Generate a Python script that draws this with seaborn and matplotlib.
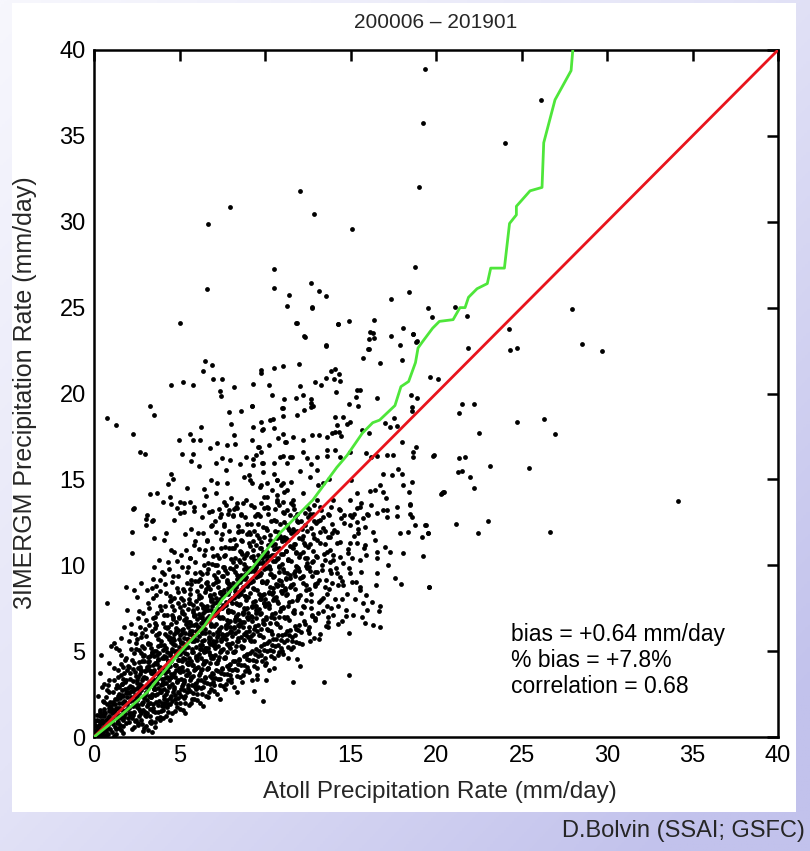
import numpy as np
import pandas as pd
import matplotlib
matplotlib.use("Agg")
import matplotlib.pyplot as plt
import seaborn as sns
from matplotlib.patches import Rectangle
from matplotlib.colors import LinearSegmentedColormap

sns.set_style("white")
plt.rcParams['font.family'] = ['Liberation Sans', 'DejaVu Sans']

# ---------------- text ----------------
title_text = "200006 \u2013 201901"
x_label = "Atoll Precipitation Rate (mm/day)"
y_label = "3IMERGM Precipitation Rate (mm/day)"
stats_lines = ["bias = +0.64 mm/day", "% bias = +7.8%", "correlation = 0.68"]
credit = "D.Bolvin (SSAI; GSFC)"
tick_values = [0, 5, 10, 15, 20, 25, 30, 35, 40]

# ---------------- data (atoll, imerg) in mm/day ----------------
pts_outliers = [
    (19.34, 38.87), (19.26, 35.73), (18.99, 32.04), (12.07, 31.81), (7.97, 30.87),
    (6.69, 29.88), (12.85, 30.45), (15.07, 29.57), (10.53, 27.24), (18.75, 27.34),
    (6.61, 26.06), (10.55, 26.16), (12.71, 26.45), (11.40, 25.73), (13.14, 25.94),
    (13.59, 25.67), (11.27, 25.09), (12.75, 24.99), (17.37, 25.48), (18.44, 25.92),
    (19.55, 24.95), (19.75, 24.47), (21.12, 25.05), (21.82, 24.53), (5.03, 24.12),
    (11.81, 24.12), (14.25, 24.02), (14.89, 24.25), (16.37, 24.27), (12.30, 23.32),
    (16.34, 23.53), (16.08, 23.18), (17.39, 23.34), (18.05, 23.81), (18.64, 23.46),
    (18.89, 23.05), (17.89, 22.83), (13.57, 22.80), (16.08, 22.62), (21.90, 22.66),
    (26.14, 37.11), (24.02, 34.60), (27.95, 24.90), (28.53, 22.86), (29.71, 22.48),
    (24.27, 23.75), (24.34, 22.53), (24.72, 22.63), (21.50, 19.39), (22.21, 19.39),
    (21.36, 18.89), (24.74, 18.33), (26.32, 18.51), (26.97, 17.67), (22.53, 17.70),
    (19.66, 20.98), (20.10, 20.85), (34.13, 13.74), (25.46, 15.64), (26.65, 11.92),
    (23.14, 15.76), (23.02, 12.58), (22.43, 11.90), (21.15, 12.42), (22.22, 14.50),
    (22.01, 15.12), (21.31, 15.43), (21.50, 15.47), (21.36, 16.24), (21.72, 16.32),
    (20.27, 14.15), (20.43, 14.25), (19.84, 16.38), (19.40, 12.34), (19.55, 11.86),
    (19.16, 11.66), (19.22, 10.56), (19.59, 8.73), (0.78, 18.55), (1.31, 18.18),
]

pts_upper = [
    (6.51, 21.87), (6.90, 21.67), (6.35, 21.30), (4.48, 20.51), (5.20, 20.66),
    (5.79, 20.47), (6.96, 20.84), (7.50, 20.84), (7.35, 20.16), (7.43, 19.83),
    (8.17, 20.35), (9.79, 21.36), (9.79, 21.21), (10.53, 21.50), (11.05, 21.58),
    (9.32, 20.53), (10.25, 20.51), (10.43, 19.89), (11.11, 19.69), (3.26, 19.28),
    (3.53, 18.76), (2.28, 17.65), (2.67, 16.60), (2.96, 16.45), (7.91, 18.92),
    (8.58, 19.01), (9.22, 19.28), (8.01, 18.22), (6.28, 18.06), (5.63, 17.67),
    (5.81, 17.27), (6.20, 17.27), (4.99, 17.32), (5.13, 16.45), (5.77, 16.45),
    (5.65, 16.08), (6.12, 15.79), (6.78, 16.80), (7.21, 17.13), (7.80, 16.99),
    (8.27, 17.05), (8.21, 17.58), (9.22, 17.28), (9.59, 16.90), (9.75, 16.60),
    (9.75, 18.35), (9.84, 17.87), (10.45, 18.49), (11.05, 19.13), (11.07, 18.68),
    (10.78, 17.38), (11.03, 17.67), (11.21, 17.19), (7.47, 16.22), (7.97, 16.12),
    (7.12, 15.96), (7.74, 15.54), (8.54, 15.87), (8.87, 16.31), (9.49, 16.41),
    (9.30, 16.16), (9.90, 15.93), (10.53, 15.93), (11.03, 16.35), (11.31, 15.93),
    (11.60, 16.31), (4.50, 15.30), (4.64, 15.05), (4.31, 14.72), (3.27, 14.14),
    (3.70, 14.18), (4.02, 13.69), (2.28, 13.27), (3.02, 12.68), (3.47, 12.62),
    (5.42, 14.47), (5.05, 13.71), (5.59, 13.71), (4.44, 13.95), (4.48, 13.56),
    (4.87, 13.31), (5.26, 13.11), (5.85, 13.17), (6.82, 14.95), (7.21, 14.76),
    (7.76, 14.80), (6.43, 14.43), (6.55, 14.04), (7.12, 14.18), (7.60, 13.69),
    (7.99, 13.89), (8.38, 13.60), (8.87, 13.79), (9.16, 13.50), (8.77, 15.15),
    (9.06, 15.25), (9.26, 14.80), (9.75, 14.66), (10.14, 14.80), (10.43, 14.41),
    (10.68, 14.95), (10.92, 14.66), (11.11, 14.27), (11.50, 14.86), (6.43, 13.50),
    (6.92, 13.15), (7.41, 13.01), (8.19, 13.25), (8.58, 12.92), (9.55, 13.01),
    (9.94, 13.98), (10.14, 13.40), (10.72, 13.69), (11.31, 13.21),
    (12.77, 25.01), (11.85, 24.12), (14.27, 24.02), (12.32, 23.30), (13.56, 22.78),
    (16.14, 23.56), (16.39, 23.21), (16.04, 22.59), (18.65, 23.44), (18.81, 22.99),
    (15.73, 22.04), (16.72, 21.79), (17.99, 21.95), (11.97, 21.73), (13.84, 21.30),
    (14.07, 21.44), (14.32, 21.15), (13.56, 20.93), (12.94, 20.68), (13.27, 20.47),
    (14.01, 20.82), (14.38, 20.70), (12.04, 20.43), (12.22, 19.93), (14.13, 20.06),
    (15.40, 20.18), (15.55, 20.18), (11.79, 19.71), (12.67, 19.67), (15.32, 19.81),
    (14.93, 19.38), (15.46, 19.27), (16.53, 19.71), (18.54, 19.91), (18.87, 19.73),
    (18.61, 19.23), (18.61, 19.00), (9.24, 19.30), (11.01, 19.17), (12.69, 19.46),
    (12.82, 19.27), (12.67, 19.19), (12.30, 19.03), (11.85, 18.74), (10.29, 18.45),
    (10.52, 18.02), (14.09, 18.61), (14.58, 18.61), (14.81, 18.22), (14.23, 18.18),
    (14.97, 18.35), (15.69, 17.89), (16.08, 17.71), (17.01, 18.29), (17.54, 18.55),
    (17.31, 18.06), (17.70, 18.10), (9.31, 18.06), (9.86, 17.92), (11.15, 17.19),
    (11.62, 17.48), (12.73, 17.61), (12.24, 17.28), (13.17, 17.57), (13.60, 17.48),
    (13.90, 17.71), (14.09, 17.77), (14.34, 17.77), (14.44, 17.52), (9.67, 16.90),
    (10.25, 16.99), (10.87, 16.31), (11.46, 16.31), (12.24, 16.60), (12.43, 16.22),
    (12.69, 15.89), (13.02, 16.31), (13.64, 16.70), (14.09, 16.70), (13.64, 16.35),
    (14.38, 16.31), (14.97, 16.60), (15.88, 16.51), (16.20, 16.31), (16.53, 16.35),
    (17.11, 16.41), (17.50, 16.41), (17.99, 17.19), (18.63, 16.60), (18.83, 16.90),
    (18.67, 16.31), (19.88, 16.41), (9.31, 15.83), (9.80, 15.93), (9.90, 15.44),
    (10.52, 15.34), (10.68, 14.95), (11.07, 14.80), (11.26, 14.37), (12.04, 15.50),
    (12.63, 15.15), (13.02, 15.54), (13.12, 14.66), (13.41, 14.80), (13.76, 15.05),
    (15.01, 14.95), (15.36, 14.18), (16.14, 14.33), (16.43, 14.37), (16.92, 14.27),
    (17.07, 13.89), (17.80, 15.63), (17.99, 15.34), (18.09, 14.66), (18.44, 14.27),
    (18.57, 14.86), (20.33, 14.18), (20.48, 14.27), (18.48, 13.54), (18.48, 13.01),
    (16.72, 14.66), (16.92, 15.34), (17.40, 15.24), (9.12, 14.95), (9.70, 14.57),
    (10.09, 13.98), (10.68, 14.08), (11.07, 13.69), (11.65, 13.79), (11.85, 13.01),
    (12.24, 14.18), (13.02, 13.79), (13.21, 13.40), (13.99, 13.79), (14.38, 13.21),
    (14.97, 13.79), (15.55, 13.40), (15.94, 13.01), (16.92, 13.21), (17.70, 13.40),
    (17.11, 12.82), (15.07, 12.82),
]

pts_core_low = [
    (0.10, 0.20), (0.20, 0.50), (0.30, 0.10), (0.40, 0.80), (0.50, 0.30), (0.60, 1.20),
    (0.70, 0.60), (0.80, 0.20), (0.90, 1.50), (0.15, 1.00), (0.35, 1.60), (0.55, 2.10),
    (0.75, 1.90), (0.95, 0.90), (0.25, 2.40), (0.45, 2.90), (0.65, 0.40), (0.85, 2.60),
    (0.05, 0.70), (0.90, 3.30), (0.58, 2.05), (0.35, 3.70), (0.88, 4.29), (0.97, 5.30),
    (0.78, 7.78), (0.40, 4.80), (0.70, 1.00), (0.20, 1.30), (0.60, 3.10), (0.95, 1.80),
    (0.50, 0.05), (0.80, 0.70), (0.30, 0.00), (0.70, 0.10),
    (1.05, 0.30), (1.10, 1.10), (1.20, 2.20), (1.25, 0.60), (1.30, 1.70), (1.35, 3.00),
    (1.40, 0.90), (1.45, 2.50), (1.50, 1.30), (1.55, 3.60), (1.60, 0.40), (1.65, 2.00),
    (1.70, 4.10), (1.75, 1.50), (1.80, 2.80), (1.85, 0.80), (1.90, 3.30), (1.95, 1.90),
    (1.15, 4.00), (1.30, 5.20), (1.46, 5.07), (1.17, 5.45), (1.56, 5.74), (1.75, 6.42),
    (1.95, 7.39), (1.85, 8.75), (1.12, 2.60), (1.38, 1.20), (1.62, 3.10), (1.72, 2.40),
    (1.88, 4.60), (1.98, 1.10), (1.28, 0.20), (1.52, 0.70), (1.68, 1.00), (1.92, 2.30),
    (1.08, 1.60), (1.42, 3.90), (1.78, 3.70), (1.58, 4.80),
    (2.02, 0.90), (2.08, 2.10), (2.12, 3.40), (2.18, 1.40), (2.22, 4.50), (2.28, 2.70),
    (2.32, 0.60), (2.38, 3.80), (2.42, 1.90), (2.48, 5.10), (2.52, 2.40), (2.58, 4.00),
    (2.62, 1.20), (2.68, 3.10), (2.72, 5.80), (2.78, 2.00), (2.82, 4.40), (2.88, 1.60),
    (2.92, 3.50), (2.98, 6.30), (2.05, 5.60), (2.15, 6.60), (2.25, 2.90), (2.35, 4.90),
    (2.45, 1.00), (2.55, 6.90), (2.65, 2.80), (2.75, 3.90), (2.85, 7.20), (2.95, 2.40),
    (2.14, 6.03), (2.53, 8.17), (2.34, 8.56), (2.73, 8.95), (2.20, 10.69), (2.24, 11.92),
    (2.34, 13.31), (2.30, 1.80), (2.60, 0.80), (2.90, 4.80), (2.40, 6.00), (2.70, 1.50),
    (2.10, 1.30), (2.50, 3.30), (2.80, 5.30), (2.95, 0.50),
    (3.02, 1.20), (3.06, 2.60), (3.10, 4.10), (3.14, 1.90), (3.18, 5.40), (3.22, 3.20),
    (3.26, 0.90), (3.30, 4.70), (3.34, 2.30), (3.38, 6.20), (3.42, 3.70), (3.46, 1.50),
    (3.50, 5.00), (3.54, 2.80), (3.58, 7.00), (3.62, 4.30), (3.66, 1.10), (3.70, 3.40),
    (3.74, 6.00), (3.78, 2.10), (3.82, 4.90), (3.86, 7.60), (3.90, 3.00), (3.94, 5.60),
    (3.98, 1.80), (3.04, 6.80), (3.12, 3.00), (3.20, 7.50), (3.28, 2.00), (3.36, 5.20),
    (3.44, 8.10), (3.52, 3.90), (3.60, 6.50), (3.68, 2.50), (3.76, 4.50), (3.84, 8.50),
    (3.92, 2.60), (3.15, 0.40), (3.55, 0.60), (3.85, 1.00), (3.24, 4.40), (3.72, 5.30),
    (3.12, 8.56), (3.51, 9.92), (3.80, 10.31), (3.51, 11.57), (3.02, 12.34), (3.12, 12.93),
    (3.41, 12.60), (3.45, 9.20), (3.95, 9.60), (3.65, 8.80),
    (4.02, 1.60), (4.05, 3.10), (4.08, 4.60), (4.11, 2.20), (4.14, 6.00), (4.17, 3.70),
    (4.20, 1.20), (4.23, 5.20), (4.26, 2.70), (4.29, 7.10), (4.32, 4.10), (4.35, 1.90),
    (4.38, 5.80), (4.41, 3.30), (4.44, 8.20), (4.47, 4.80), (4.50, 2.40), (4.53, 6.60),
    (4.56, 3.60), (4.59, 9.00), (4.62, 5.40), (4.65, 2.90), (4.68, 7.40), (4.71, 4.20),
    (4.74, 1.50), (4.77, 6.20), (4.80, 3.90), (4.83, 8.70), (4.86, 5.00), (4.89, 2.60),
    (4.92, 7.80), (4.95, 4.50), (4.98, 6.90), (4.10, 9.50), (4.30, 10.20), (4.50, 8.00),
    (4.70, 10.80), (4.90, 9.40), (4.15, 2.00), (4.45, 1.00), (4.75, 2.20), (4.25, 3.50),
    (4.55, 5.00), (4.85, 3.20), (4.35, 6.40), (4.65, 6.00), (4.95, 5.70), (4.09, 11.47),
    (4.19, 11.86), (4.48, 10.89), (4.68, 12.64), (4.60, 7.00), (4.20, 8.40),
    (0.18, 0.42), (0.29, 0.94), (0.44, 1.31), (0.56, 0.63), (0.67, 1.38), (0.76, 0.51),
    (0.87, 1.24), (0.99, 1.66), (1.07, 0.94), (1.16, 1.47), (1.23, 1.94), (1.34, 0.81),
    (1.41, 2.36), (1.52, 1.71), (1.63, 2.44), (1.74, 1.19), (1.83, 2.03), (1.94, 2.62),
    (2.06, 1.41), (2.17, 2.68), (2.27, 1.31), (2.37, 2.46), (2.47, 2.21), (0.04, 0.28),
    (0.63, 0.06), (1.18, 0.07), (1.71, 0.22), (2.23, 0.46), (2.81, 0.73), (3.38, 0.31),
]

pts_core_mid = [
    (5.02, 2.00), (5.05, 3.80), (5.08, 5.50), (5.11, 2.80), (5.14, 7.20), (5.17, 4.40),
    (5.20, 1.60), (5.23, 6.30), (5.26, 3.30), (5.29, 8.50), (5.32, 4.90), (5.35, 2.40),
    (5.38, 6.90), (5.41, 3.90), (5.44, 9.60), (5.47, 5.70), (5.50, 3.00), (5.53, 7.80),
    (5.56, 4.60), (5.59, 10.40), (5.62, 6.20), (5.65, 3.50), (5.68, 8.90), (5.71, 5.10),
    (5.74, 2.20), (5.77, 7.40), (5.80, 4.20), (5.83, 11.20), (5.86, 5.90), (5.89, 3.10),
    (5.92, 9.10), (5.95, 6.60), (5.98, 4.00), (5.10, 10.60), (5.30, 11.80), (5.50, 9.90),
    (5.70, 12.10), (5.90, 10.20), (5.15, 5.00), (5.45, 4.30), (5.75, 5.60), (5.25, 7.70),
    (5.55, 6.70), (5.85, 7.10), (5.35, 1.40), (5.65, 2.00), (5.95, 2.80), (5.20, 8.00),
    (5.60, 8.30), (5.05, 13.02), (5.26, 13.61), (5.85, 13.41),
    (6.02, 2.50), (6.05, 4.50), (6.08, 6.40), (6.11, 3.30), (6.14, 8.10), (6.17, 5.10),
    (6.20, 2.00), (6.23, 7.00), (6.26, 3.90), (6.29, 9.50), (6.32, 5.60), (6.35, 2.90),
    (6.38, 7.60), (6.41, 4.40), (6.44, 10.60), (6.47, 6.30), (6.50, 3.50), (6.53, 8.60),
    (6.56, 5.20), (6.59, 11.40), (6.62, 6.90), (6.65, 4.00), (6.68, 9.80), (6.71, 5.80),
    (6.74, 2.60), (6.77, 8.20), (6.80, 4.80), (6.83, 12.30), (6.86, 6.60), (6.89, 3.70),
    (6.92, 10.10), (6.95, 7.30), (6.98, 4.60), (6.10, 11.90), (6.30, 12.80), (6.50, 10.90),
    (6.70, 13.10), (6.90, 11.00), (6.15, 5.90), (6.45, 5.00), (6.75, 6.10), (6.25, 8.80),
    (6.55, 7.40), (6.85, 7.90), (6.35, 1.80), (6.65, 2.30), (6.95, 3.20), (6.20, 9.20),
    (6.60, 9.00), (6.40, 6.80), (6.80, 5.40), (6.00, 7.50),
    (7.02, 3.00), (7.05, 5.20), (7.08, 7.10), (7.11, 3.90), (7.14, 9.00), (7.17, 5.80),
    (7.20, 2.50), (7.23, 7.80), (7.26, 4.50), (7.29, 10.40), (7.32, 6.30), (7.35, 3.40),
    (7.38, 8.40), (7.41, 5.00), (7.44, 11.50), (7.47, 7.00), (7.50, 4.00), (7.53, 9.40),
    (7.56, 5.90), (7.59, 12.30), (7.62, 7.60), (7.65, 4.60), (7.68, 10.60), (7.71, 6.50),
    (7.74, 3.10), (7.77, 9.00), (7.80, 5.40), (7.83, 13.00), (7.86, 7.30), (7.89, 4.20),
    (7.92, 11.00), (7.95, 8.00), (7.98, 5.20), (7.10, 12.60), (7.30, 13.30), (7.50, 11.80),
    (7.70, 13.50), (7.90, 12.00), (7.15, 6.60), (7.45, 5.60), (7.75, 6.80), (7.25, 9.60),
    (7.55, 8.20), (7.85, 8.70), (7.35, 2.20), (7.65, 2.80), (7.95, 3.60), (7.20, 10.00),
    (7.60, 9.90), (7.40, 7.50), (7.80, 6.00), (7.00, 8.30),
    (8.02, 3.40), (8.05, 5.90), (8.08, 7.80), (8.11, 4.40), (8.14, 9.80), (8.17, 6.40),
    (8.20, 2.90), (8.23, 8.50), (8.26, 5.00), (8.29, 11.20), (8.32, 7.00), (8.35, 3.90),
    (8.38, 9.20), (8.41, 5.60), (8.44, 12.30), (8.47, 7.70), (8.50, 4.50), (8.53, 10.20),
    (8.56, 6.60), (8.59, 13.00), (8.62, 8.30), (8.65, 5.20), (8.68, 11.40), (8.71, 7.20),
    (8.74, 3.60), (8.77, 9.80), (8.80, 6.00), (8.83, 12.80), (8.86, 8.00), (8.89, 4.80),
    (8.92, 11.80), (8.95, 8.80), (8.98, 5.80), (8.10, 12.90), (8.30, 13.40), (8.50, 12.00),
    (8.70, 13.60), (8.90, 10.60), (8.15, 7.30), (8.45, 6.20), (8.75, 7.50), (8.25, 10.40),
    (8.55, 9.00), (8.85, 9.50), (8.35, 2.60), (8.65, 3.20), (8.95, 4.10), (8.20, 11.00),
    (8.60, 10.80), (8.40, 8.20), (8.80, 6.70),
]

pts_core_high = [
    (9.02, 3.90), (9.06, 6.40), (9.10, 8.40), (9.14, 4.90), (9.18, 10.50), (9.22, 7.00),
    (9.26, 3.30), (9.30, 9.10), (9.34, 5.60), (9.38, 12.00), (9.42, 7.60), (9.46, 4.40),
    (9.50, 9.90), (9.54, 6.20), (9.58, 13.00), (9.62, 8.30), (9.66, 5.00), (9.70, 11.00),
    (9.74, 7.20), (9.78, 13.60), (9.82, 9.00), (9.86, 5.80), (9.90, 12.20), (9.94, 7.80),
    (9.98, 4.20), (9.12, 11.80), (9.36, 13.40), (9.60, 10.60), (9.84, 10.40), (9.20, 5.90),
    (9.45, 6.90), (9.75, 8.20), (9.28, 11.40), (9.55, 3.60), (9.35, 2.69), (9.55, 3.35),
    (9.90, 2.07), (9.65, 9.60), (9.95, 6.60),
    (10.02, 4.60), (10.06, 7.00), (10.10, 9.10), (10.14, 5.50), (10.18, 11.20), (10.22, 7.70),
    (10.26, 3.90), (10.30, 9.80), (10.34, 6.20), (10.38, 12.60), (10.42, 8.30), (10.46, 5.00),
    (10.50, 10.60), (10.54, 6.90), (10.58, 13.30), (10.62, 8.90), (10.66, 5.70), (10.70, 11.60),
    (10.74, 7.80), (10.78, 4.80), (10.82, 9.60), (10.86, 6.40), (10.90, 12.40), (10.94, 8.50),
    (10.98, 10.10), (10.06, 3.31), (10.52, 4.03), (10.20, 13.00), (10.60, 12.00), (10.40, 6.00),
    (10.80, 13.50), (10.95, 5.20), (10.10, 10.30), (10.45, 9.30),
    (11.02, 5.00), (11.07, 7.50), (11.12, 9.60), (11.17, 6.00), (11.22, 11.60), (11.27, 8.30),
    (11.32, 4.58), (11.37, 10.30), (11.42, 6.80), (11.47, 12.90), (11.52, 8.80), (11.57, 5.60),
    (11.62, 11.00), (11.67, 7.40), (11.72, 13.30), (11.77, 9.40), (11.82, 6.30), (11.87, 12.00),
    (11.92, 8.10), (11.97, 10.50), (11.62, 3.18), (11.89, 4.54), (11.65, 5.22), (11.10, 12.50),
    (11.50, 13.60), (11.30, 7.00), (11.85, 9.90), (11.15, 8.70),
    (12.04, 4.15), (12.00, 5.45), (12.59, 6.07), (12.10, 7.20), (12.20, 9.40), (12.30, 11.30),
    (12.40, 8.00), (12.50, 12.80), (12.60, 9.90), (12.70, 7.50), (12.80, 11.80), (12.90, 8.80),
    (12.15, 12.10), (12.35, 6.60), (12.45, 10.40), (12.55, 13.30), (12.65, 5.60), (12.75, 10.20),
    (12.85, 12.60), (12.95, 9.60), (12.25, 10.80), (12.73, 7.10), (12.92, 6.91),
    (13.02, 8.95), (13.02, 10.50), (13.12, 7.20), (13.21, 11.28), (13.31, 9.72), (13.45, 3.20),
    (13.51, 8.75), (13.60, 10.79), (13.60, 7.63), (13.66, 6.71), (13.66, 6.42), (13.80, 11.66),
    (13.80, 9.72), (13.90, 8.95), (13.10, 12.60), (13.30, 13.20), (13.50, 12.00), (13.70, 13.00),
    (13.90, 12.40), (13.40, 8.10), (13.20, 6.00), (13.95, 10.60),
    (14.09, 8.01), (14.48, 8.01), (14.19, 11.96), (14.19, 11.28), (14.19, 9.53), (14.38, 10.50),
    (14.38, 9.34), (14.29, 8.85), (14.58, 8.85), (14.58, 10.11), (14.48, 6.77), (14.97, 12.34),
    (14.97, 12.93), (14.97, 11.28), (14.87, 10.69), (14.97, 9.53), (14.93, 6.03), (14.93, 3.63),
    (14.00, 10.31), (14.60, 12.90), (14.30, 13.30), (14.75, 7.40),
    (15.07, 9.04), (15.32, 9.04), (15.36, 11.28), (15.36, 12.54), (15.36, 13.31), (15.46, 11.86),
    (15.75, 12.73), (15.84, 12.25), (15.84, 11.18), (15.90, 10.60), (15.55, 10.31), (15.55, 8.75),
    (15.55, 8.56), (15.75, 7.78), (15.94, 7.39), (15.16, 7.10), (15.86, 6.62), (16.26, 7.88),
    (16.30, 6.54), (16.43, 11.47), (16.34, 11.96), (16.53, 10.79), (16.53, 10.40), (16.53, 9.53),
    (16.49, 8.85), (16.72, 7.63), (16.68, 7.33), (16.74, 6.38), (16.57, 13.06), (17.01, 11.08),
    (17.11, 13.22), (17.21, 10.01), (17.31, 10.79), (17.60, 9.24), (17.70, 12.87), (17.89, 11.86),
    (17.93, 8.91), (18.09, 10.69), (18.38, 11.96), (18.48, 13.51), (18.57, 12.79), (18.77, 12.34),
    (19.35, 12.34), (19.55, 11.86), (19.57, 8.71), (15.20, 13.00), (15.60, 13.60), (16.00, 12.90),
    (16.20, 13.50),
]

pts_dense_a = [
    (0.12, 0.35), (0.27, 0.72), (0.41, 0.18), (0.08, 0.95), (0.33, 1.21), (0.46, 0.55),
    (0.19, 0.08), (0.38, 1.44), (0.22, 0.61), (0.47, 0.97),
    (0.53, 0.88), (0.61, 1.63), (0.72, 0.34), (0.84, 1.12), (0.93, 2.05), (0.57, 1.47),
    (0.68, 2.31), (0.79, 0.93), (0.88, 1.71), (0.96, 0.48), (0.64, 0.71), (0.74, 2.72),
    (0.83, 3.05),
    (1.03, 1.38), (1.09, 2.02), (1.14, 0.77), (1.21, 1.55), (1.27, 2.88), (1.33, 1.03),
    (1.36, 2.21), (1.42, 1.66), (1.47, 0.52), (1.19, 3.34), (1.26, 0.45), (1.44, 2.93),
    (1.11, 1.91), (1.38, 3.52), (1.49, 1.97),
    (1.53, 2.26), (1.58, 1.12), (1.61, 2.74), (1.66, 1.58), (1.71, 3.38), (1.77, 2.11),
    (1.82, 1.36), (1.86, 2.57), (1.91, 3.91), (1.97, 2.83), (1.55, 4.25), (1.69, 0.66),
    (1.79, 4.49), (1.93, 1.63), (1.64, 3.06), (1.84, 3.21), (1.99, 4.12),
    (2.03, 2.54), (2.07, 1.67), (2.11, 3.71), (2.16, 2.31), (2.21, 1.09), (2.26, 3.24),
    (2.31, 2.08), (2.36, 4.28), (2.41, 2.77), (2.46, 3.58), (2.04, 4.06), (2.19, 5.12),
    (2.33, 1.45), (2.44, 5.47), (2.13, 2.96), (2.29, 3.97), (2.49, 1.73), (2.39, 0.93),
    (2.51, 3.12), (2.56, 1.86), (2.61, 4.34), (2.66, 2.55), (2.71, 3.67), (2.76, 1.37),
    (2.81, 2.98), (2.86, 4.71), (2.91, 2.26), (2.96, 3.83), (2.54, 5.73), (2.69, 6.41),
    (2.83, 1.94), (2.93, 5.16), (2.58, 2.93), (2.74, 4.87), (2.88, 3.42), (2.99, 1.28),
    (2.63, 7.35), (2.79, 6.05),
    (3.03, 3.46), (3.08, 2.18), (3.13, 4.63), (3.17, 2.87), (3.21, 3.93), (3.27, 1.62),
    (3.32, 3.28), (3.37, 4.96), (3.41, 2.51), (3.46, 4.17), (3.05, 5.88), (3.19, 6.55),
    (3.29, 5.41), (3.44, 6.93), (3.09, 1.37), (3.23, 2.41), (3.35, 3.82), (3.48, 3.04),
    (3.16, 7.82), (3.39, 8.66), (3.31, 0.83), (3.47, 1.91),
    (3.53, 3.71), (3.57, 2.46), (3.61, 5.02), (3.66, 3.13), (3.71, 4.26), (3.76, 1.88),
    (3.81, 3.59), (3.86, 5.37), (3.91, 2.74), (3.96, 4.58), (3.55, 6.35), (3.69, 7.23),
    (3.79, 6.08), (3.94, 7.41), (3.59, 1.46), (3.73, 2.88), (3.84, 4.05), (3.98, 3.37),
    (3.63, 8.27), (3.88, 9.14), (3.51, 4.72), (3.77, 5.69), (3.92, 1.53),
    (4.03, 4.02), (4.07, 2.81), (4.12, 5.33), (4.16, 3.44), (4.21, 4.65), (4.26, 2.13),
    (4.31, 3.86), (4.36, 5.71), (4.41, 2.97), (4.46, 4.89), (4.04, 6.62), (4.18, 7.64),
    (4.28, 6.37), (4.43, 7.91), (4.09, 1.78), (4.23, 3.12), (4.34, 4.44), (4.48, 3.68),
    (4.13, 8.93), (4.38, 9.76), (4.01, 5.06), (4.27, 5.88), (4.42, 1.91), (4.47, 6.14),
    (4.19, 2.49),
    (4.52, 4.41), (4.57, 3.06), (4.61, 5.77), (4.66, 3.71), (4.71, 5.03), (4.76, 2.44),
    (4.81, 4.18), (4.86, 6.12), (4.91, 3.29), (4.96, 5.26), (4.54, 7.09), (4.68, 8.12),
    (4.78, 6.71), (4.93, 8.45), (4.59, 2.07), (4.73, 3.49), (4.84, 4.77), (4.98, 4.01),
    (4.63, 9.38), (4.88, 10.27), (4.51, 5.51), (4.77, 6.34), (4.92, 2.29), (4.97, 6.96),
    (4.69, 2.78),
    (5.03, 4.83), (5.07, 3.39), (5.12, 6.24), (5.16, 4.07), (5.21, 5.46), (5.26, 2.71),
    (5.31, 4.52), (5.36, 6.58), (5.41, 3.62), (5.46, 5.71), (5.04, 7.56), (5.18, 8.63),
    (5.28, 7.19), (5.43, 8.98), (5.09, 2.38), (5.23, 3.83), (5.34, 5.16), (5.48, 4.37),
    (5.13, 9.87), (5.38, 10.91), (5.01, 5.93), (5.27, 6.81), (5.42, 2.61), (5.47, 7.43),
    (5.19, 3.08), (5.33, 6.03),
    (5.52, 5.24), (5.57, 3.72), (5.61, 6.69), (5.66, 4.43), (5.71, 5.92), (5.76, 3.01),
    (5.81, 4.94), (5.86, 7.04), (5.91, 3.97), (5.96, 6.18), (5.54, 8.02), (5.68, 9.12),
    (5.78, 7.66), (5.93, 9.53), (5.59, 2.67), (5.73, 4.21), (5.84, 5.61), (5.98, 4.74),
    (5.63, 10.41), (5.88, 11.39), (5.51, 6.41), (5.77, 7.28), (5.92, 2.91), (5.97, 7.91),
    (5.69, 3.43), (5.83, 6.52),
]

pts_dense_b = [
    (6.03, 5.67), (6.07, 4.07), (6.12, 7.18), (6.16, 4.81), (6.21, 6.36), (6.26, 3.29),
    (6.31, 5.37), (6.36, 7.52), (6.41, 4.33), (6.46, 6.64), (6.04, 8.51), (6.18, 9.63),
    (6.28, 8.14), (6.43, 10.02), (6.09, 2.93), (6.23, 4.58), (6.34, 6.03), (6.48, 5.16),
    (6.13, 10.93), (6.38, 11.88), (6.01, 6.87), (6.27, 7.77), (6.42, 3.18), (6.47, 8.43),
    (6.19, 3.71), (6.33, 6.97), (6.24, 5.12), (6.45, 4.92),
    (6.52, 6.08), (6.57, 4.41), (6.61, 7.63), (6.66, 5.19), (6.71, 6.79), (6.76, 3.58),
    (6.81, 5.78), (6.86, 8.01), (6.91, 4.69), (6.96, 7.08), (6.54, 8.97), (6.68, 10.11),
    (6.78, 8.61), (6.93, 10.53), (6.59, 3.17), (6.73, 4.94), (6.84, 6.47), (6.98, 5.57),
    (6.63, 11.46), (6.88, 12.37), (6.51, 7.33), (6.77, 8.24), (6.92, 3.44), (6.97, 8.92),
    (6.69, 4.02), (6.83, 7.42), (6.74, 5.53), (6.95, 5.33),
    (7.03, 6.49), (7.07, 4.76), (7.12, 8.08), (7.16, 5.57), (7.21, 7.22), (7.26, 3.87),
    (7.31, 6.19), (7.36, 8.47), (7.41, 5.04), (7.46, 7.53), (7.04, 9.44), (7.18, 10.61),
    (7.28, 9.07), (7.43, 11.01), (7.09, 3.42), (7.23, 5.31), (7.34, 6.91), (7.48, 5.98),
    (7.13, 11.96), (7.38, 12.81), (7.01, 7.79), (7.27, 8.71), (7.42, 3.71), (7.47, 9.38),
    (7.19, 4.33), (7.33, 7.86), (7.24, 5.94), (7.45, 5.72),
    (7.52, 6.91), (7.57, 5.11), (7.61, 8.53), (7.66, 5.94), (7.71, 7.66), (7.76, 4.16),
    (7.81, 6.61), (7.86, 8.94), (7.91, 5.39), (7.96, 7.97), (7.54, 9.91), (7.68, 11.08),
    (7.78, 9.52), (7.93, 11.47), (7.59, 3.67), (7.73, 5.68), (7.84, 7.33), (7.98, 6.39),
    (7.63, 12.43), (7.88, 13.21), (7.51, 8.26), (7.77, 9.17), (7.92, 3.98), (7.97, 9.84),
    (7.69, 4.63), (7.83, 8.31), (7.74, 6.36), (7.95, 6.13),
    (8.03, 7.31), (8.07, 5.46), (8.12, 8.97), (8.16, 6.32), (8.21, 8.11), (8.26, 4.45),
    (8.31, 7.02), (8.36, 9.41), (8.41, 5.74), (8.46, 8.42), (8.04, 10.37), (8.18, 11.52),
    (8.28, 9.98), (8.43, 11.93), (8.09, 3.93), (8.23, 6.04), (8.34, 7.76), (8.48, 6.81),
    (8.13, 12.88), (8.38, 13.31), (8.01, 8.71), (8.27, 9.63), (8.42, 4.26), (8.47, 10.29),
    (8.19, 4.94), (8.33, 8.76), (8.24, 6.77), (8.45, 6.55),
    (8.52, 7.73), (8.57, 5.81), (8.61, 9.41), (8.66, 6.69), (8.71, 8.56), (8.76, 4.74),
    (8.81, 7.44), (8.86, 9.87), (8.91, 6.09), (8.96, 8.87), (8.54, 10.83), (8.68, 11.97),
    (8.78, 10.43), (8.93, 12.39), (8.59, 4.19), (8.73, 6.41), (8.84, 8.19), (8.98, 7.22),
    (8.51, 9.16), (8.77, 10.09), (8.92, 4.53), (8.97, 10.74), (8.69, 5.26), (8.83, 9.21),
    (8.74, 7.18), (8.95, 6.97),
    (9.03, 8.14), (9.07, 6.16), (9.12, 9.86), (9.16, 7.06), (9.21, 9.01), (9.26, 5.03),
    (9.31, 7.86), (9.36, 10.33), (9.41, 6.44), (9.46, 9.32), (9.04, 11.29), (9.18, 12.43),
    (9.28, 10.88), (9.43, 12.85), (9.09, 4.46), (9.23, 6.78), (9.34, 8.62), (9.48, 7.63),
    (9.01, 9.61), (9.27, 10.55), (9.42, 4.81), (9.47, 11.19), (9.19, 5.58), (9.33, 9.66),
    (9.24, 7.59), (9.45, 7.39),
    (9.52, 8.56), (9.57, 6.51), (9.61, 10.31), (9.66, 7.43), (9.71, 9.46), (9.76, 5.32),
    (9.81, 8.28), (9.86, 10.79), (9.91, 6.79), (9.96, 9.77), (9.54, 11.74), (9.68, 12.89),
    (9.78, 11.33), (9.93, 13.31), (9.59, 4.73), (9.73, 7.15), (9.84, 9.04), (9.98, 8.04),
    (9.51, 10.06), (9.77, 11.01), (9.92, 5.08), (9.97, 11.64), (9.69, 5.91), (9.83, 10.11),
    (9.74, 8.01), (9.95, 7.81),
    (10.03, 8.97), (10.07, 6.86), (10.12, 10.76), (10.16, 7.81), (10.21, 9.91), (10.26, 5.61),
    (10.31, 8.71), (10.36, 11.24), (10.41, 7.14), (10.46, 10.22), (10.04, 12.19), (10.18, 13.34),
    (10.28, 11.78), (10.09, 5.01), (10.23, 7.52), (10.34, 9.47), (10.48, 8.46), (10.01, 10.51),
    (10.27, 11.46), (10.42, 5.36), (10.19, 6.24), (10.33, 10.56), (10.24, 8.43),
    (10.52, 9.39), (10.57, 7.21), (10.61, 11.21), (10.66, 8.18), (10.71, 10.36), (10.76, 5.91),
    (10.81, 9.13), (10.86, 11.69), (10.91, 7.49), (10.96, 10.67), (10.54, 12.64), (10.68, 13.79),
    (10.59, 5.29), (10.73, 7.89), (10.84, 9.89), (10.98, 8.87), (10.51, 10.96), (10.77, 11.91),
    (10.92, 5.64), (10.69, 6.57), (10.83, 11.01), (10.74, 8.84),
    (11.03, 9.81), (11.07, 7.56), (11.12, 11.66), (11.16, 8.56), (11.21, 10.81), (11.26, 6.19),
    (11.31, 9.56), (11.36, 12.14), (11.41, 7.84), (11.46, 11.12), (11.04, 13.09), (11.09, 5.56),
    (11.23, 8.26), (11.34, 10.32), (11.48, 9.28), (11.01, 11.41), (11.27, 12.36), (11.42, 5.92),
    (11.19, 6.91), (11.33, 11.46), (11.24, 9.26),
    (11.52, 10.23), (11.57, 7.91), (11.61, 12.11), (11.66, 8.93), (11.71, 11.26), (11.76, 6.48),
    (11.81, 9.98), (11.86, 12.59), (11.91, 8.19), (11.96, 11.57), (11.59, 5.83), (11.73, 8.63),
    (11.84, 10.74), (11.98, 9.69), (11.51, 11.86), (11.77, 12.81), (11.92, 6.21), (11.69, 7.24),
    (11.83, 11.91), (11.74, 9.68),
    (12.03, 10.64), (12.07, 8.26), (12.12, 12.56), (12.16, 9.31), (12.21, 11.71), (12.26, 6.77),
    (12.31, 10.41), (12.36, 13.04), (12.41, 8.54), (12.46, 12.02), (12.09, 6.11), (12.23, 8.99),
    (12.34, 11.16), (12.48, 10.11), (12.27, 7.58), (12.44, 9.83),
    (12.52, 11.06), (12.57, 8.61), (12.61, 13.01), (12.66, 9.68), (12.71, 12.16), (12.76, 7.06),
    (12.81, 10.83), (12.86, 13.49), (12.91, 8.89), (12.96, 12.47), (12.59, 6.39), (12.73, 9.36),
    (12.84, 11.59), (12.98, 10.52), (12.69, 7.91),
    (13.04, 11.48), (13.13, 9.12), (13.22, 12.61), (13.31, 10.04), (13.41, 7.35), (13.52, 11.25),
    (13.61, 8.31), (13.73, 12.91), (13.84, 9.57), (13.93, 11.86), (13.17, 7.86), (13.46, 10.67),
    (13.68, 6.97), (13.88, 7.54), (13.37, 12.19), (13.79, 10.21),
    (14.06, 12.07), (14.17, 9.83), (14.28, 7.61), (14.41, 11.36), (14.53, 9.07), (14.64, 12.46),
    (14.77, 8.32), (14.88, 10.95), (14.24, 6.58), (14.71, 7.03), (14.46, 12.78), (14.92, 9.82),
    (15.11, 10.43), (15.27, 8.02), (15.44, 12.12), (15.62, 9.61), (15.78, 10.98), (15.93, 8.24),
    (15.23, 11.73), (15.69, 6.96),
]

pts_dense_c = [
    (2.52, 2.15), (2.57, 3.48), (2.62, 1.63), (2.67, 4.05), (2.72, 2.71), (2.77, 0.98),
    (2.82, 3.29), (2.87, 2.04), (2.92, 4.42), (2.97, 1.47), (2.55, 0.71), (2.65, 5.08),
    (2.75, 3.86), (2.85, 0.36), (2.95, 2.89),
    (3.01, 2.47), (3.06, 3.92), (3.11, 1.79), (3.16, 4.38), (3.21, 3.06), (3.26, 1.21),
    (3.31, 3.71), (3.36, 2.33), (3.41, 4.91), (3.46, 1.68), (3.04, 0.62), (3.14, 5.47),
    (3.24, 4.13), (3.34, 0.95), (3.44, 3.37), (3.49, 2.78),
    (3.52, 2.81), (3.57, 4.29), (3.62, 2.03), (3.67, 4.76), (3.72, 3.44), (3.77, 1.44),
    (3.82, 4.01), (3.87, 2.62), (3.92, 5.33), (3.97, 1.96), (3.54, 0.88), (3.64, 5.94),
    (3.74, 4.57), (3.84, 1.17), (3.94, 3.73), (3.99, 3.11), (3.59, 6.62),
    (4.02, 3.18), (4.07, 4.71), (4.12, 2.36), (4.17, 5.19), (4.22, 3.82), (4.27, 1.72),
    (4.32, 4.44), (4.37, 2.94), (4.42, 5.79), (4.47, 2.27), (4.04, 1.12), (4.14, 6.41),
    (4.24, 4.97), (4.34, 1.46), (4.44, 4.11), (4.49, 3.49), (4.09, 7.12),
    (4.52, 3.52), (4.57, 5.13), (4.62, 2.64), (4.67, 5.63), (4.72, 4.19), (4.77, 1.98),
    (4.82, 4.86), (4.87, 3.26), (4.92, 6.22), (4.97, 2.54), (4.54, 1.37), (4.64, 6.88),
    (4.74, 5.36), (4.84, 1.72), (4.94, 4.48), (4.99, 3.87), (4.59, 7.61),
    (5.02, 3.91), (5.07, 5.56), (5.12, 2.98), (5.17, 6.07), (5.22, 4.58), (5.27, 2.26),
    (5.32, 5.29), (5.37, 3.59), (5.42, 6.67), (5.47, 2.83), (5.04, 1.63), (5.14, 7.34),
    (5.24, 5.77), (5.34, 1.97), (5.44, 4.86), (5.49, 4.24), (5.09, 8.11), (5.29, 3.21),
    (5.52, 4.27), (5.57, 5.98), (5.62, 3.29), (5.67, 6.52), (5.72, 4.96), (5.77, 2.54),
    (5.82, 5.71), (5.87, 3.93), (5.92, 7.11), (5.97, 3.12), (5.54, 1.89), (5.64, 7.83),
    (5.74, 6.19), (5.84, 2.24), (5.94, 5.24), (5.99, 4.61), (5.59, 8.61), (5.79, 3.58),
    (6.02, 4.66), (6.07, 6.41), (6.12, 3.63), (6.17, 6.96), (6.22, 5.34), (6.27, 2.83),
    (6.32, 6.13), (6.37, 4.27), (6.42, 7.56), (6.47, 3.41), (6.04, 2.14), (6.14, 8.29),
    (6.24, 6.61), (6.34, 2.51), (6.44, 5.63), (6.49, 4.98), (6.09, 9.08), (6.29, 3.94),
    (6.39, 7.21),
    (6.52, 5.03), (6.57, 6.84), (6.62, 3.96), (6.67, 7.41), (6.72, 5.72), (6.77, 3.11),
    (6.82, 6.55), (6.87, 4.61), (6.92, 8.01), (6.97, 3.69), (6.54, 2.41), (6.64, 8.77),
    (6.74, 7.03), (6.84, 2.78), (6.94, 6.01), (6.99, 5.36), (6.59, 9.56), (6.79, 4.28),
    (6.89, 7.62),
    (7.02, 5.42), (7.07, 7.27), (7.12, 4.29), (7.17, 7.86), (7.22, 6.11), (7.27, 3.39),
    (7.32, 6.97), (7.37, 4.94), (7.42, 8.46), (7.47, 3.98), (7.04, 2.68), (7.14, 9.24),
    (7.24, 7.44), (7.34, 3.04), (7.44, 6.39), (7.49, 5.73), (7.09, 10.03), (7.29, 4.63),
    (7.39, 8.06),
    (7.52, 5.79), (7.57, 7.69), (7.62, 4.62), (7.67, 8.31), (7.72, 6.49), (7.77, 3.67),
    (7.82, 7.39), (7.87, 5.28), (7.92, 8.91), (7.97, 4.26), (7.54, 2.96), (7.64, 9.71),
    (7.74, 7.86), (7.84, 3.31), (7.94, 6.77), (7.99, 6.11), (7.59, 10.51), (7.79, 4.97),
    (7.89, 8.49),
    (8.02, 6.17), (8.07, 8.12), (8.12, 4.96), (8.17, 8.76), (8.22, 6.88), (8.27, 3.94),
    (8.32, 7.81), (8.37, 5.61), (8.42, 9.36), (8.47, 4.54), (8.04, 3.22), (8.14, 10.18),
    (8.24, 8.28), (8.34, 3.58), (8.44, 7.16), (8.49, 6.48), (8.09, 10.98), (8.29, 5.31),
    (8.39, 8.92),
    (8.52, 6.56), (8.57, 8.54), (8.62, 5.29), (8.67, 9.21), (8.72, 7.26), (8.77, 4.22),
    (8.82, 8.23), (8.87, 5.96), (8.92, 9.81), (8.97, 4.83), (8.54, 3.49), (8.64, 10.66),
    (8.74, 8.71), (8.84, 3.86), (8.94, 7.54), (8.99, 6.86), (8.59, 11.46), (8.79, 5.64),
    (8.89, 9.34),
    (9.02, 6.94), (9.07, 8.97), (9.12, 5.62), (9.17, 9.66), (9.22, 7.64), (9.27, 4.51),
    (9.32, 8.66), (9.37, 6.29), (9.42, 10.26), (9.47, 5.11), (9.04, 3.77), (9.14, 11.13),
    (9.24, 9.13), (9.34, 4.13), (9.44, 7.92), (9.49, 7.23), (9.09, 11.93), (9.29, 5.98),
    (9.39, 9.77),
    (9.52, 7.33), (9.57, 9.39), (9.62, 5.96), (9.67, 10.11), (9.72, 8.03), (9.77, 4.79),
    (9.82, 9.08), (9.87, 6.63), (9.92, 10.71), (9.97, 5.39), (9.54, 4.03), (9.64, 11.61),
    (9.74, 9.56), (9.84, 4.41), (9.94, 8.31), (9.99, 7.61), (9.59, 12.41), (9.79, 6.31),
    (9.89, 10.19),
    (10.02, 7.71), (10.07, 9.82), (10.12, 6.29), (10.17, 10.56), (10.22, 8.41), (10.27, 5.07),
    (10.32, 9.51), (10.37, 6.97), (10.42, 11.16), (10.47, 5.68), (10.04, 4.31), (10.14, 12.08),
    (10.24, 9.98), (10.34, 4.69), (10.44, 8.69), (10.49, 7.98), (10.29, 6.64), (10.39, 10.62),
    (10.52, 8.09), (10.57, 10.24), (10.62, 6.63), (10.67, 11.01), (10.72, 8.79), (10.77, 5.36),
    (10.82, 9.93), (10.87, 7.31), (10.92, 11.61), (10.97, 5.96), (10.54, 4.58), (10.64, 12.56),
    (10.74, 10.41), (10.84, 4.96), (10.94, 9.07), (10.99, 8.36), (10.79, 6.98),
    (11.02, 8.48), (11.07, 10.67), (11.12, 6.96), (11.17, 11.46), (11.22, 9.18), (11.27, 5.64),
    (11.32, 10.36), (11.37, 7.64), (11.42, 12.06), (11.47, 6.24), (11.04, 4.86), (11.14, 13.03),
    (11.24, 10.83), (11.34, 5.23), (11.44, 9.44), (11.49, 8.73),
    (11.52, 8.86), (11.57, 11.09), (11.62, 7.29), (11.67, 11.91), (11.72, 9.56), (11.77, 5.93),
    (11.82, 10.78), (11.87, 7.98), (11.92, 12.51), (11.97, 6.53), (11.54, 5.13), (11.64, 13.48),
    (11.74, 11.26), (11.84, 5.51), (11.94, 9.82),
    (12.06, 9.24), (12.17, 11.51), (12.24, 7.63), (12.33, 12.36), (12.42, 9.94), (12.53, 6.21),
    (12.62, 11.21), (12.71, 8.31), (12.82, 12.96), (12.93, 6.81), (12.14, 5.41), (12.47, 13.41),
    (12.78, 10.24), (12.88, 5.79), (12.38, 8.87),
    (13.06, 9.61), (13.19, 11.94), (13.27, 7.97), (13.39, 12.81), (13.48, 10.33), (13.57, 6.49),
    (13.66, 11.64), (13.75, 8.64), (13.86, 13.41), (13.97, 7.09), (13.14, 5.69), (13.55, 9.12),
    (13.83, 10.86),
]

# quantile-quantile curve (sorted atoll vs sorted imerg)
qq_atoll = [0.0, 1.5, 3.1, 5.0, 6.4, 7.5, 9.3, 10.9, 12.8, 14.2, 14.8, 15.7, 16.3, 16.7,
            17.6, 17.95, 18.4, 18.8, 18.95, 19.2, 19.8, 20.2, 21.0, 21.4, 21.7, 21.9,
            22.4, 23.0, 23.2, 24.0, 24.3, 24.7, 24.7, 25.5, 26.2, 26.3, 26.96, 27.9, 28.0]
qq_imerg = [0.0, 1.2, 2.6, 4.9, 6.4, 8.0, 9.9, 11.9, 13.8, 15.7, 16.4, 17.7, 18.3, 18.45,
            19.3, 20.4, 20.7, 21.8, 22.65, 23.0, 23.8, 24.2, 24.3, 25.0, 25.0, 25.6,
            26.1, 26.4, 27.3, 27.3, 29.9, 30.4, 30.9, 31.8, 32.0, 34.6, 37.1, 38.8, 40.0]

one_to_one = [0, 40]

# ---------------- build frames ----------------
all_pts = (pts_outliers + pts_upper + pts_core_low + pts_core_mid + pts_core_high
           + pts_dense_a + pts_dense_b + pts_dense_c)
df = pd.DataFrame(all_pts, columns=["atoll", "imerg"])
qq = pd.DataFrame({"atoll": qq_atoll, "imerg": qq_imerg})
ref = pd.DataFrame({"atoll": one_to_one, "imerg": one_to_one})

W, H = 810, 851
fig = plt.figure(figsize=(W / 100, H / 100), dpi=100)

# background gradient + white panel
bg = fig.add_axes([0, 0, 1, 1], zorder=-5)
bg.set_axis_off()
gx, gy = np.meshgrid(np.linspace(0, 1, 300), np.linspace(1, 0, 300))
grad = np.clip(0.55 * gx + 0.55 * (1 - gy), 0, 1)
cmap = LinearSegmentedColormap.from_list("lav", ["#f7f7fd", "#e4e4f7", "#c2c2ec"])
bg.imshow(grad, extent=[0, 1, 0, 1], aspect="auto", cmap=cmap, vmin=0, vmax=1, origin="upper")
bg.add_patch(Rectangle((12 / W, 1 - 812 / H), (796 - 12) / W, (812 - 3) / H,
                       transform=bg.transAxes, facecolor="white", edgecolor="none"))
bg.set_xlim(0, 1)
bg.set_ylim(0, 1)

ax = fig.add_axes([94 / W, 1 - 737 / H, (778 - 94) / W, (737 - 50) / H])
ax.set_facecolor("white")

sns.scatterplot(data=df, x="atoll", y="imerg", ax=ax, color="black", s=12,
                linewidth=0, zorder=2, legend=False)
sns.lineplot(data=ref, x="atoll", y="imerg", ax=ax, color="#e8141c", lw=2.0,
             zorder=3, estimator=None, sort=False)
sns.lineplot(data=qq, x="atoll", y="imerg", ax=ax, color="#4ee63a", lw=2.0,
             zorder=4, estimator=None, sort=False)

ax.set_xlim(0, 40)
ax.set_ylim(0, 40)
ax.set_xticks(tick_values)
ax.set_yticks(tick_values)
ax.set_xticklabels([str(v) for v in tick_values])
ax.set_yticklabels([str(v) for v in tick_values])
ax.tick_params(direction="in", length=8, width=1.8, top=True, right=True,
               labelsize=17, pad=6, colors="black")
for sp in ax.spines.values():
    sp.set_linewidth(1.8)
    sp.set_color("black")
ax.set_xlabel("")
ax.set_ylabel("")

ax.text(24.4, 6.65, "\n".join(stats_lines), fontsize=16.5, va="top", ha="left",
        linespacing=1.17, color="black")

fig.text(436 / W, 1 - 22 / H, title_text, ha="center", va="center", fontsize=15)
fig.text(440 / W, 1 - 792 / H, x_label, ha="center", va="center", fontsize=17.5)
fig.text(25 / W, 1 - 393 / H, y_label, ha="center", va="center", rotation=90, fontsize=18)
fig.text(805 / W, 1 - 831 / H, credit, ha="right", va="center", fontsize=17)

fig.savefig("out.png", dpi=100)
